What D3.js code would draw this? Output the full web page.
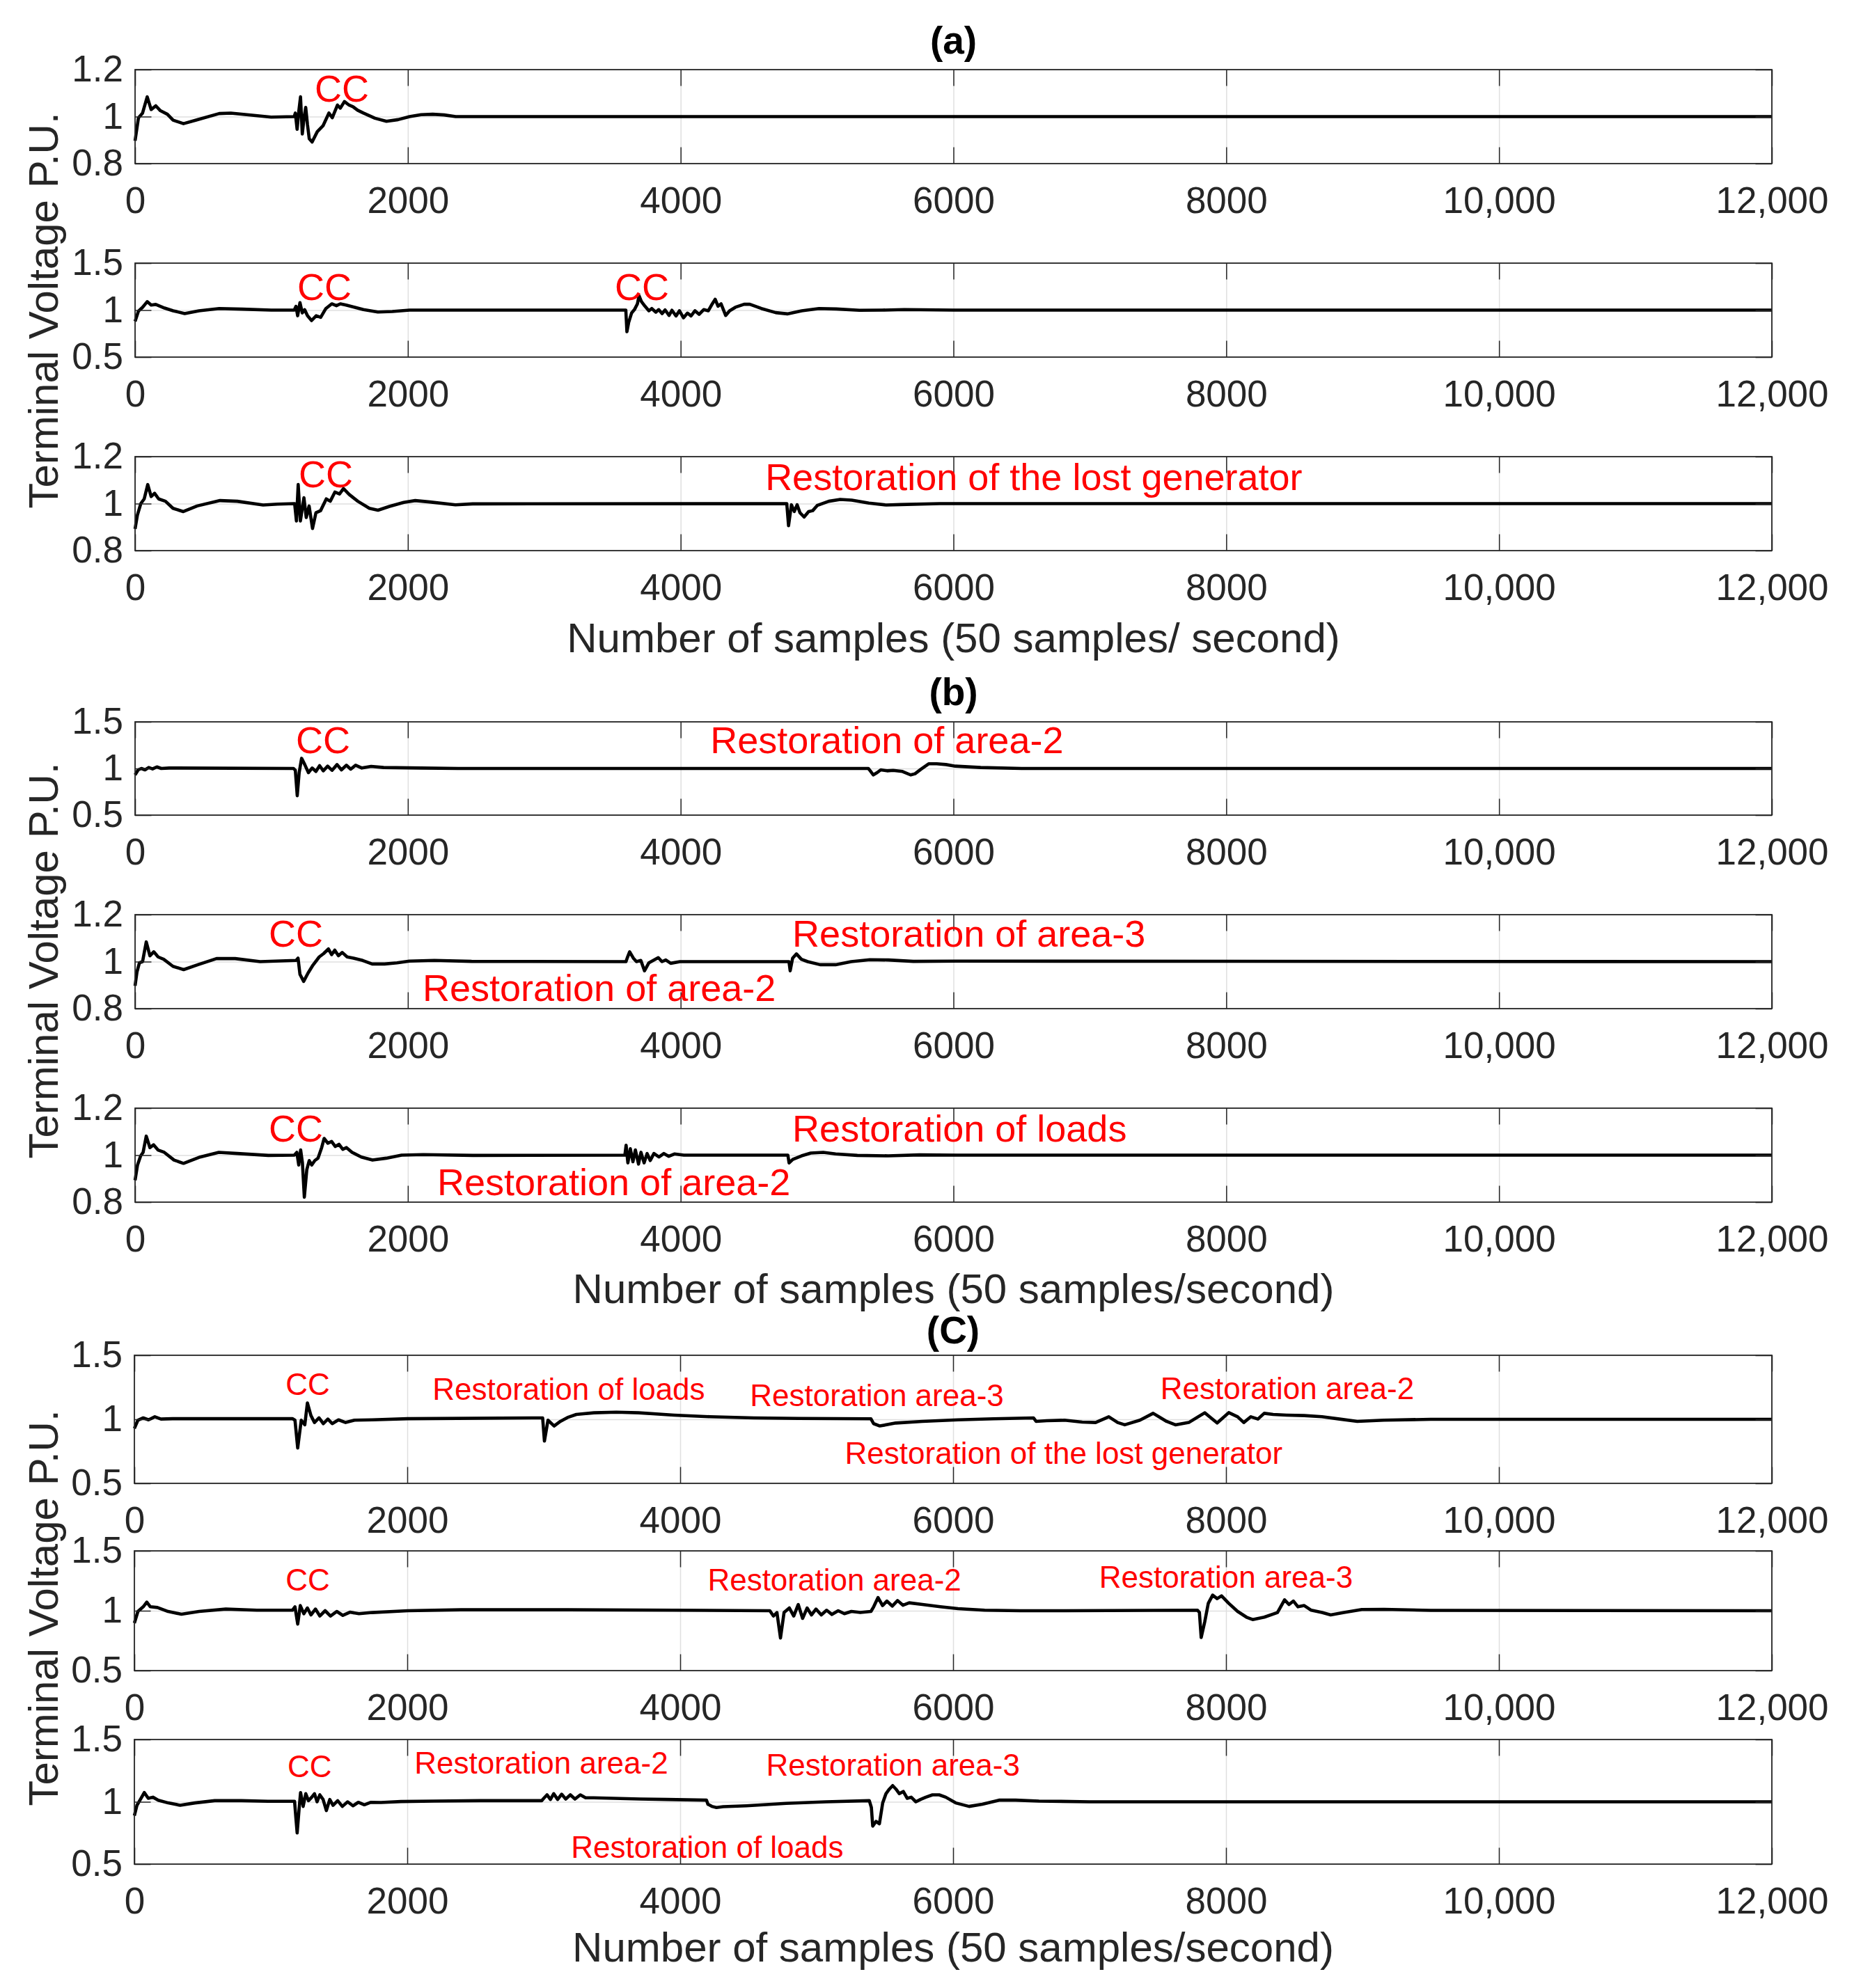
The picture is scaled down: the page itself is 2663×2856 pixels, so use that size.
<!DOCTYPE html>
<html>
<head>
<meta charset="utf-8">
<script src="https://cdn.jsdelivr.net/npm/d3@7"></script>
<style>
  body { margin: 0; background: #fff; }
  svg { display: block; }
  text { font-family: "Liberation Sans", Arial, Helvetica, sans-serif; }
</style>
</head>
<body>
<svg id="chart"></svg>
<script>
// ---- data ----
const xTicks = [0, 2000, 4000, 6000, 8000, 10000, 12000];
const xTickLabels = ['0', '2000', '4000', '6000', '8000', '10,000', '12,000'];
const yTicksNarrow = [0.8, 1, 1.2];
const yTicksWide = [0.5, 1, 1.5];
const groupTitles = ['(a)', '(b)', '(C)'];
const xAxisLabels = [
  'Number of samples (50 samples/ second)',
  'Number of samples (50 samples/second)',
  'Number of samples (50 samples/second)'
];
const yAxisLabel = 'Terminal Voltage P.U.';

// [sample, voltage p.u.]
const seriesA1 = [[0,0.897],[25,0.995],[55,1.015],[89,1.084],[118,1.03],[152,1.046],[186,1.025],[237,1.01],[279,0.985],[355,0.97],[448,0.985],[617,1.013],[702,1.015],[871,1.005],[998,0.998],[1167,1.0],[1175,1.015],[1188,0.946],[1201,1.025],[1213,1.084],[1226,0.926],[1239,0.995],[1251,1.039],[1264,0.966],[1277,0.906],[1298,0.892],[1336,0.936],[1378,0.961],[1421,1.015],[1446,0.995],[1484,1.049],[1505,1.036],[1535,1.064],[1569,1.049],[1598,1.042],[1632,1.027],[1674,1.015],[1759,0.993],[1843,0.98],[1928,0.987],[2013,1.0],[2097,1.008],[2182,1.01],[2266,1.007],[2351,1.0],[12000,1.0]];

const seriesA2 = [[0,0.88],[25,0.99],[55,1.03],[89,1.09],[118,1.054],[152,1.06],[216,1.022],[279,0.993],[364,0.963],[469,0.993],[617,1.017],[786,1.01],[998,1.0],[1167,1.0],[1180,1.04],[1192,0.94],[1209,1.08],[1226,0.97],[1243,1.005],[1264,0.94],[1294,0.889],[1328,0.94],[1361,0.923],[1399,1.017],[1442,1.067],[1476,1.047],[1505,1.067],[1547,1.054],[1611,1.03],[1674,1.005],[1780,0.98],[1886,0.985],[2013,1.0],[3598,1.0],[3606,0.77],[3619,0.869],[3640,0.968],[3661,1.005],[3683,1.067],[3695,1.153],[3712,1.092],[3738,1.042],[3767,0.993],[3788,1.017],[3818,0.978],[3839,1.005],[3864,0.963],[3886,1.002],[3915,0.943],[3936,0.998],[3966,0.938],[3991,0.993],[4021,0.918],[4050,0.968],[4076,0.938],[4105,0.993],[4135,0.955],[4169,1.005],[4203,0.993],[4232,1.067],[4253,1.116],[4274,1.042],[4296,1.067],[4330,0.943],[4359,0.993],[4401,1.03],[4465,1.062],[4507,1.062],[4592,1.017],[4697,0.973],[4782,0.96],[4888,0.993],[5014,1.017],[5141,1.012],[5310,0.998],[5479,1.0],[5640,1.005],[6000,1.0],[12000,1.0]];

const seriesA3 = [[0,0.892],[17,0.951],[42,1.0],[67,1.02],[93,1.081],[118,1.03],[143,1.044],[173,1.02],[223,1.01],[278,0.98],[354,0.966],[455,0.99],[623,1.013],[749,1.01],[939,0.994],[1044,0.998],[1170,1.0],[1183,0.926],[1196,1.081],[1212,0.926],[1238,1.025],[1255,0.941],[1276,0.99],[1301,0.894],[1326,0.961],[1360,0.97],[1402,1.02],[1431,1.01],[1465,1.049],[1499,1.041],[1528,1.064],[1570,1.039],[1633,1.01],[1718,0.98],[1781,0.972],[1865,0.988],[1970,1.005],[2054,1.013],[2160,1.007],[2349,0.995],[2475,0.999],[4778,1.0],[4791,0.906],[4812,0.995],[4833,0.966],[4854,0.995],[4875,0.961],[4905,0.943],[4938,0.966],[4968,0.97],[5001,0.992],[5086,1.01],[5170,1.018],[5254,1.015],[5380,1.002],[5507,0.994],[5612,0.996],[5900,1.0],[12000,1.0]];

const seriesB1 = [[0,0.931],[23,0.985],[46,1.0],[73,0.985],[100,1.01],[128,0.995],[160,1.017],[192,1.0],[250,1.005],[1162,1.0],[1175,0.98],[1189,0.708],[1203,0.955],[1221,1.109],[1244,1.042],[1271,0.955],[1298,1.005],[1326,0.968],[1353,1.03],[1380,0.975],[1412,1.025],[1444,0.98],[1481,1.042],[1513,0.985],[1549,1.035],[1581,0.993],[1617,1.035],[1663,1.005],[1731,1.022],[1822,1.01],[2096,1.005],[2369,1.0],[5376,1.0],[5390,0.975],[5412,0.931],[5440,0.955],[5467,0.985],[5513,0.975],[5558,0.98],[5626,0.968],[5686,0.931],[5718,0.943],[5763,0.993],[5818,1.05],[5877,1.05],[5945,1.042],[6014,1.025],[6200,1.01],[6500,1.0],[12000,1.0]];

const seriesB2 = [[0,0.897],[14,0.956],[32,0.995],[55,1.0],[82,1.084],[109,1.025],[137,1.042],[169,1.02],[210,1.01],[278,0.98],[356,0.966],[461,0.987],[597,1.013],[734,1.013],[917,1.0],[1181,1.005],[1195,1.015],[1209,0.946],[1236,0.916],[1268,0.951],[1304,0.985],[1350,1.02],[1382,1.034],[1418,1.054],[1441,1.03],[1464,1.049],[1491,1.025],[1519,1.039],[1555,1.02],[1601,1.015],[1669,1.005],[1738,0.99],[1829,0.99],[1920,0.995],[2011,1.002],[2194,1.005],[2467,1.001],[3599,1.0],[3608,1.015],[3626,1.042],[3653,1.015],[3676,1.0],[3708,1.005],[3735,0.961],[3767,0.995],[3799,1.005],[3836,1.017],[3863,1.0],[3891,1.007],[3927,0.993],[3995,1.0],[4794,1.0],[4803,0.961],[4821,1.015],[4849,1.033],[4885,1.01],[4931,1.0],[5022,0.987],[5136,0.987],[5250,1.0],[5387,1.008],[5523,1.007],[5706,1.001],[6025,1.002],[12000,1.0]];

const seriesB3 = [[0,0.893],[18,0.958],[41,0.997],[59,1.012],[82,1.081],[109,1.032],[136,1.044],[168,1.022],[214,1.012],[286,0.979],[355,0.965],[477,0.992],[614,1.012],[750,1.007],[977,0.999],[1168,1.0],[1186,1.012],[1200,0.958],[1214,1.022],[1227,0.967],[1241,0.821],[1259,0.938],[1277,0.977],[1295,0.958],[1318,0.977],[1341,0.987],[1368,1.032],[1386,1.071],[1413,1.051],[1441,1.058],[1468,1.037],[1495,1.046],[1523,1.025],[1550,1.032],[1591,1.012],[1659,0.992],[1741,0.979],[1841,0.987],[1954,1.0],[2113,1.002],[2477,0.999],[3591,1.0],[3600,1.042],[3613,0.967],[3631,1.027],[3650,0.972],[3668,1.022],[3691,0.962],[3709,1.012],[3732,0.967],[3754,1.007],[3777,0.977],[3804,1.007],[3841,0.992],[3877,1.007],[3913,0.995],[3954,1.005],[4023,1.0],[4786,1.0],[4795,0.967],[4822,0.982],[4886,0.997],[4954,1.009],[5045,1.012],[5136,1.005],[5295,0.999],[5522,0.997],[5750,1.001],[6023,1.0],[12000,1.0]];

const seriesC1 = [[0,0.929],[26,0.993],[65,1.011],[104,0.996],[150,1.02],[195,1.002],[280,1.005],[1158,1.005],[1177,0.993],[1197,0.776],[1223,0.993],[1249,0.957],[1268,1.128],[1294,1.029],[1320,0.975],[1353,1.011],[1385,0.966],[1418,1.002],[1450,0.966],[1496,0.996],[1548,0.975],[1613,0.993],[1743,0.996],[2003,1.005],[2914,1.011],[2992,1.011],[3005,0.83],[3031,0.993],[3076,0.948],[3122,0.984],[3174,1.014],[3239,1.038],[3369,1.051],[3532,1.056],[3694,1.051],[3954,1.033],[4215,1.02],[4540,1.011],[4865,1.007],[5398,1.004],[5418,0.966],[5463,0.948],[5580,0.971],[5775,0.984],[6036,0.996],[6296,1.004],[6589,1.011],[6608,0.984],[6686,0.989],[6816,0.993],[6946,0.978],[7044,0.975],[7141,1.02],[7206,0.975],[7258,0.957],[7369,0.993],[7466,1.047],[7564,0.984],[7629,0.957],[7727,0.975],[7844,1.051],[7935,0.971],[8020,1.052],[8085,1.02],[8130,0.975],[8182,1.02],[8234,1.002],[8280,1.047],[8345,1.038],[8443,1.033],[8573,1.029],[8703,1.02],[8832,1.002],[8962,0.984],[9158,0.993],[9500,1.0],[12000,1.0]];

const seriesC2 = [[0,0.897],[26,0.994],[65,1.033],[91,1.072],[117,1.033],[169,1.027],[247,0.994],[345,0.971],[475,0.994],[670,1.014],[898,1.004],[1158,1.004],[1177,1.033],[1197,0.888],[1216,1.043],[1242,0.975],[1268,1.023],[1294,0.965],[1327,1.014],[1359,0.956],[1398,1.0],[1437,0.956],[1483,0.994],[1528,0.961],[1580,0.988],[1646,0.975],[1743,0.985],[2003,1.0],[2393,1.008],[3174,1.008],[3954,1.004],[4657,1.0],[4683,0.956],[4709,0.985],[4735,0.772],[4761,0.985],[4800,1.023],[4832,0.956],[4865,1.052],[4897,0.936],[4930,1.023],[4962,0.965],[4995,1.014],[5034,0.965],[5073,1.004],[5112,0.969],[5158,1.0],[5203,0.975],[5255,0.994],[5320,0.985],[5398,0.994],[5418,1.033],[5450,1.11],[5483,1.043],[5515,1.081],[5554,1.039],[5593,1.085],[5632,1.046],[5678,1.066],[5775,1.052],[5906,1.033],[6036,1.017],[6231,1.004],[6491,1.0],[6816,1.0],[7791,1.004],[7805,0.985],[7818,0.776],[7844,0.907],[7870,1.062],[7902,1.13],[7935,1.101],[7967,1.124],[8020,1.062],[8085,0.994],[8150,0.946],[8195,0.926],[8280,0.946],[8377,0.985],[8429,1.091],[8462,1.052],[8494,1.081],[8527,1.033],[8573,1.043],[8625,1.004],[8703,0.985],[8767,0.965],[8865,0.985],[8995,1.01],[9158,1.012],[9500,1.003],[12000,1.0]];

const seriesC3 = [[0,0.889],[19,0.972],[44,1.019],[73,1.074],[102,1.028],[136,1.037],[175,1.013],[248,0.991],[336,0.972],[443,0.991],[589,1.009],[784,1.009],[979,1.004],[1174,1.004],[1183,0.879],[1193,0.75],[1208,0.954],[1218,1.074],[1237,0.963],[1256,1.065],[1276,1.009],[1300,1.037],[1320,1.065],[1339,1.0],[1359,1.056],[1383,1.019],[1407,0.93],[1432,1.019],[1456,0.972],[1490,1.009],[1524,0.963],[1563,1.0],[1602,0.968],[1641,0.996],[1685,0.976],[1734,0.996],[1807,0.994],[1953,1.002],[2196,1.006],[2537,1.009],[2985,1.009],[3000,1.028],[3024,1.056],[3049,1.019],[3073,1.065],[3102,1.019],[3131,1.061],[3161,1.022],[3195,1.056],[3229,1.022],[3268,1.056],[3307,1.032],[3365,1.032],[3511,1.028],[3706,1.022],[3901,1.019],[4193,1.013],[4203,0.981],[4232,0.963],[4266,0.954],[4315,0.961],[4485,0.968],[4777,0.987],[5070,1.0],[5386,1.009],[5401,0.954],[5411,0.805],[5435,0.842],[5460,0.824],[5484,0.991],[5508,1.065],[5533,1.102],[5557,1.13],[5581,1.102],[5606,1.065],[5635,1.083],[5664,1.028],[5693,1.037],[5727,1.0],[5761,1.019],[5800,1.037],[5849,1.056],[5898,1.056],[5946,1.037],[6019,0.991],[6117,0.963],[6214,0.981],[6336,1.013],[6458,1.013],[6629,1.006],[7000,1.0],[12000,1.0]];

const allSeries = [seriesA1, seriesA2, seriesA3, seriesB1, seriesB2, seriesB3, seriesC1, seriesC2, seriesC3];

// annotation anchors: left edge sample, vertical centre in p.u.
const notesA1 = [{x: 1317, y: 1.121, text: 'CC'}];
const notesA2 = [{x: 1189, y: 1.25, text: 'CC'}, {x: 3517, y: 1.25, text: 'CC'}];
const notesA3 = [{x: 1200, y: 1.127, text: 'CC'}, {x: 4620, y: 1.113, text: 'Restoration of the lost generator'}];
const notesB1 = [{x: 1179, y: 1.306, text: 'CC'}, {x: 4217, y: 1.306, text: 'Restoration of area-2'}];
const notesB2 = [{x: 980, y: 1.119, text: 'CC'}, {x: 4819, y: 1.119, text: 'Restoration of area-3'}, {x: 2108, y: 0.89, text: 'Restoration of area-2'}];
const notesB3 = [{x: 980, y: 1.113, text: 'CC'}, {x: 4819, y: 1.113, text: 'Restoration of loads'}, {x: 2215, y: 0.887, text: 'Restoration of area-2'}];
const notesC1 = [{x: 1108, y: 1.277, text: 'CC'}, {x: 2185, y: 1.234, text: 'Restoration of loads'}, {x: 4512, y: 1.19, text: 'Restoration area-3'}, {x: 7519, y: 1.24, text: 'Restoration area-2'}, {x: 5207, y: 0.739, text: 'Restoration of the lost generator'}];
const notesC2 = [{x: 1108, y: 1.256, text: 'CC'}, {x: 4201, y: 1.256, text: 'Restoration area-2'}, {x: 7070, y: 1.28, text: 'Restoration area-3'}];
const notesC3 = [{x: 1123, y: 1.285, text: 'CC'}, {x: 2052, y: 1.313, text: 'Restoration area-2'}, {x: 4630, y: 1.296, text: 'Restoration area-3'}, {x: 3200, y: 0.637, text: 'Restoration of loads'}];

const allNotes = [notesA1, notesA2, notesA3, notesB1, notesB2, notesB3, notesC1, notesC2, notesC3];
const panelYTicks = [yTicksNarrow, yTicksWide, yTicksNarrow, yTicksWide, yTicksNarrow, yTicksNarrow, yTicksWide, yTicksWide, yTicksWide];

// ---- layout ----
const W = 2663, H = 2856;
const boxes = [
  {left: 194, right: 2545, top: 100, bottom: 235},
  {left: 194, right: 2545, top: 378, bottom: 513},
  {left: 194, right: 2545, top: 656, bottom: 791},
  {left: 194, right: 2545, top: 1037, bottom: 1171},
  {left: 194, right: 2545, top: 1314, bottom: 1449},
  {left: 194, right: 2545, top: 1592, bottom: 1727},
  {left: 193, right: 2545, top: 1947, bottom: 2131},
  {left: 193, right: 2545, top: 2228, bottom: 2400},
  {left: 193, right: 2545, top: 2499, bottom: 2678}
];
const groups = [
  {titleY: 58, xLabelY: 916, yLabelY: 446, noteSize: 54},
  {titleY: 994, xLabelY: 1851, yLabelY: 1380, noteSize: 54},
  {titleY: 1911, xLabelY: 2797, yLabelY: 2310, noteSize: 44}
];
const axisColor = '#262626';
const gridColor = '#dfdfdf';
const tickLen = 23.5;

const svg = d3.select('#chart').attr('width', W).attr('height', H);
svg.append('rect').attr('width', W).attr('height', H).attr('fill', '#fff');

boxes.forEach((b, i) => {
  const w = b.right - b.left;
  const h = b.bottom - b.top;
  const yt = panelYTicks[i];
  const x = d3.scaleLinear().domain([0, 12000]).range([0, w]);
  const y = d3.scaleLinear().domain([yt[0], yt[2]]).range([h, 0]);
  const g = svg.append('g').attr('transform', 'translate(' + b.left + ',' + b.top + ')');

  // grid
  g.append('g')
    .attr('transform', 'translate(0,' + h + ')')
    .call(d3.axisBottom(x).tickValues(xTicks).tickSize(-h).tickFormat(''))
    .call(s => s.select('.domain').remove())
    .call(s => s.selectAll('line').attr('stroke', gridColor).attr('stroke-width', 1.5));
  g.append('g')
    .call(d3.axisLeft(y).tickValues(yt).tickSize(-w).tickFormat(''))
    .call(s => s.select('.domain').remove())
    .call(s => s.selectAll('line').attr('stroke', gridColor).attr('stroke-width', 1.5));

  // curve
  const line = d3.line().x(d => x(d[0])).y(d => y(d[1]));
  g.append('path')
    .datum(allSeries[i])
    .attr('d', line)
    .attr('fill', 'none')
    .attr('stroke', '#000')
    .attr('stroke-width', 4.6)
    .attr('stroke-linejoin', 'round');

  // ticks (inward, mirrored) and labels
  const bottomAxis = g.append('g')
    .attr('transform', 'translate(0,' + h + ')')
    .call(d3.axisBottom(x).tickValues(xTicks).tickSizeInner(-tickLen).tickSizeOuter(0)
      .tickPadding(33).tickFormat((d, k) => xTickLabels[k]));
  g.append('g')
    .call(d3.axisTop(x).tickValues(xTicks).tickSizeInner(-tickLen).tickSizeOuter(0).tickFormat(''));
  const leftAxis = g.append('g')
    .call(d3.axisLeft(y).tickValues(yt).tickSizeInner(-tickLen).tickSizeOuter(0)
      .tickPadding(17).tickFormat(d => d3.format('')(d)));
  g.append('g')
    .attr('transform', 'translate(' + w + ',0)')
    .call(d3.axisRight(y).tickValues(yt).tickSizeInner(-tickLen).tickSizeOuter(0).tickFormat(''));

  g.selectAll('.domain').remove();
  g.selectAll('.tick line').filter(function() { return this.getAttribute('stroke') === 'currentColor'; })
    .attr('stroke', axisColor).attr('stroke-width', 1.5);
  [bottomAxis, leftAxis].forEach(a => a.selectAll('text')
    .attr('fill', axisColor)
    .style('font-size', '53px')
    .style('font-family', '"Liberation Sans", Arial, sans-serif'));

  // box
  g.append('rect')
    .attr('width', w).attr('height', h)
    .attr('fill', 'none')
    .attr('stroke', axisColor)
    .attr('stroke-width', 1.8);

  // annotations
  const grp = groups[Math.floor(i / 3)];
  g.selectAll('.note')
    .data(allNotes[i])
    .enter()
    .append('text')
    .attr('class', 'note')
    .attr('x', d => x(d.x))
    .attr('y', d => y(d.y))
    .attr('dominant-baseline', 'central')
    .attr('fill', '#ff0000')
    .style('font-size', grp.noteSize + 'px')
    .text(d => d.text);
});

// group titles and axis labels
groups.forEach((grp, k) => {
  const cx = (boxes[k * 3].left + boxes[k * 3].right) / 2;
  svg.append('text')
    .attr('x', cx).attr('y', grp.titleY)
    .attr('text-anchor', 'middle')
    .attr('dominant-baseline', 'central')
    .attr('fill', '#000')
    .style('font-size', '55px')
    .style('font-weight', 'bold')
    .text(groupTitles[k]);
  svg.append('text')
    .attr('x', cx).attr('y', grp.xLabelY)
    .attr('text-anchor', 'middle')
    .attr('dominant-baseline', 'central')
    .attr('fill', axisColor)
    .style('font-size', '60px')
    .text(xAxisLabels[k]);
  svg.append('text')
    .attr('transform', 'translate(62,' + grp.yLabelY + ') rotate(-90)')
    .attr('text-anchor', 'middle')
    .attr('dominant-baseline', 'central')
    .attr('fill', axisColor)
    .style('font-size', '60px')
    .text(yAxisLabel);
});
</script>
</body>
</html>
